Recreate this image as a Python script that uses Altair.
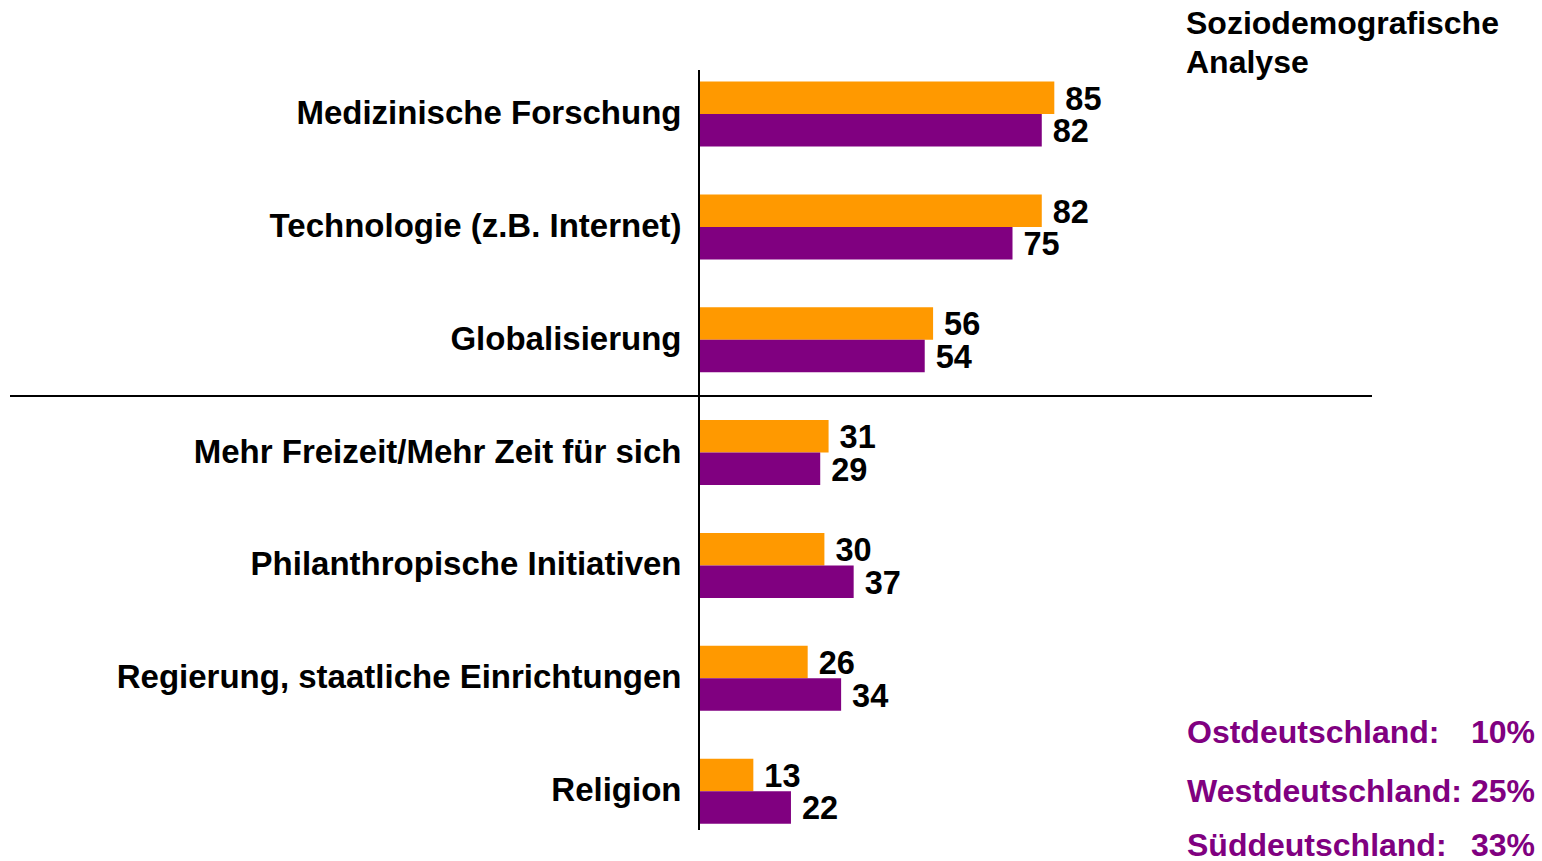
import altair as alt
import pandas as pd

# Survey items, top to bottom
categories = [
    "Medizinische Forschung",
    "Technologie (z.B. Internet)",
    "Globalisierung",
    "Mehr Freizeit/Mehr Zeit für sich",
    "Philanthropische Initiativen",
    "Regierung, staatliche Einrichtungen",
    "Religion",
]
series_names = ["Serie 1", "Serie 2"]
series_colors = ["#FF9900", "#800080"]
values_1 = [85, 82, 56, 31, 30, 26, 13]
values_2 = [82, 75, 54, 29, 37, 34, 22]

side_title = ["Soziodemografische", "Analyse"]
regions = ["Ostdeutschland:", "Westdeutschland:", "Süddeutschland:"]
shares = [10, 25, 33]

FONT = "Liberation Sans"
W, H = 673, 790

rows = []
for cat, v1, v2 in zip(categories, values_1, values_2):
    rows.append({"Kategorie": cat, "Serie": series_names[0], "Wert": v1})
    rows.append({"Kategorie": cat, "Serie": series_names[1], "Wert": v2})
df = pd.DataFrame(rows)

y_scale = alt.Scale(paddingInner=0.424, paddingOuter=0.212)
y_axis = alt.Axis(
    title=None, ticks=False, domain=False, labelPadding=18,
    labelFont=FONT, labelFontSize=33, labelFontWeight="bold",
    labelColor="black", labelLimit=0,
)
x_enc = alt.X("Wert:Q", scale=alt.Scale(domain=[0, 161]), axis=None)
yoff = alt.YOffset("Serie:N", sort=series_names, scale=alt.Scale(paddingInner=0, paddingOuter=0))

base = alt.Chart(df)

bars = base.mark_bar().encode(
    y=alt.Y("Kategorie:N", sort=categories, scale=y_scale, axis=y_axis),
    x=x_enc,
    yOffset=yoff,
    color=alt.Color("Serie:N", scale=alt.Scale(domain=series_names, range=series_colors), legend=None),
)

values = base.mark_text(
    align="left", baseline="middle", dx=11, dy=2,
    font=FONT, fontSize=32.5, fontWeight="bold", color="black",
).encode(
    y=alt.Y("Kategorie:N", sort=categories, scale=y_scale, axis=None),
    x=x_enc, yOffset=yoff, text=alt.Text("Wert:Q"),
)

one = alt.Data(values=[{}])

# vertical axis line
axis_line = alt.Chart(one).mark_rule(color="black", strokeWidth=2).encode(
    x=alt.value(0), y=alt.value(12.4), y2=alt.value(772.4)
)

# separator between the upper and lower block of items
separator = alt.Chart(one).mark_rule(color="black", strokeWidth=2).encode(
    x=alt.value(-689), x2=alt.value(W), y=alt.value(338.4)
)

side_y = alt.Y("yy:Q", scale=None, axis=None)

title_df = pd.DataFrame({"t": side_title, "yy": [-23.6, 15.4]})
title_text = alt.Chart(title_df).mark_text(
    align="left", baseline="alphabetic", font=FONT, fontSize=32,
    fontWeight="bold", color="black",
).encode(x=alt.value(487), y=side_y, text="t:N")

reg_df = pd.DataFrame({
    "r": regions,
    "s": [f"{v}%" for v in shares],
    "yy": [685.4, 744.4, 798.4],
})
region_text = alt.Chart(reg_df).mark_text(
    align="left", baseline="alphabetic", font=FONT, fontSize=32,
    fontWeight="bold", color="#800080",
).encode(x=alt.value(488), y=side_y, text="r:N")
share_text = alt.Chart(reg_df).mark_text(
    align="right", baseline="alphabetic", font=FONT, fontSize=32,
    fontWeight="bold", color="#800080",
).encode(x=alt.value(836), y=side_y, text="s:N")

chart = alt.layer(
    bars, values, axis_line, separator, title_text, region_text, share_text
).resolve_scale(y="independent").properties(
    width=W, height=H,
    padding={"left": 699, "top": 57.6, "right": 170, "bottom": 13.4},
    autosize="none",
    background="white",
).configure_view(stroke=None)

chart.save("out.html", embed_options={"renderer": "svg", "actions": False})
